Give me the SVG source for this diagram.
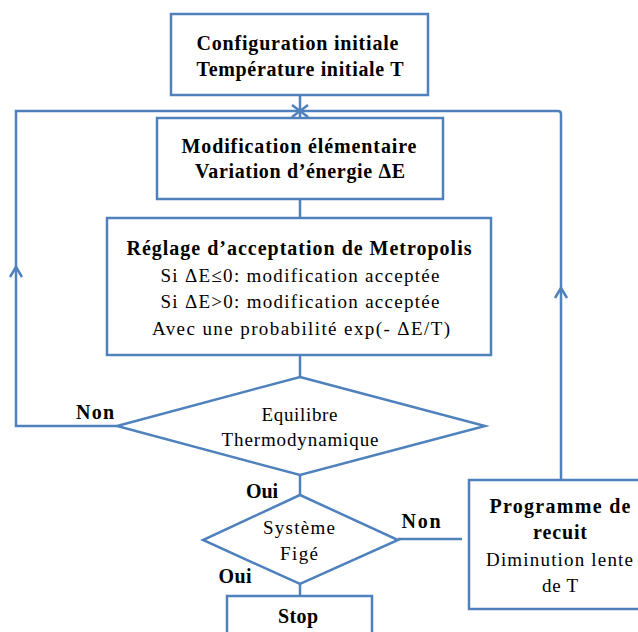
<svg xmlns="http://www.w3.org/2000/svg" width="638" height="632" viewBox="0 0 638 632" font-family="Times New Roman">
<style>
.box{fill:#fff;stroke:#4F81BD;stroke-width:2.5}
.ln{fill:none;stroke:#4F81BD;stroke-width:2.5}
text{font-family:"Times New Roman",serif;fill:#000;text-anchor:middle}
.b{font-weight:bold;font-size:20px}
.r{font-size:19px}
</style>
<rect width="638" height="632" fill="#fff"/>
<g id="connectors">
<line class="ln" x1="300" y1="95" x2="300" y2="118"/>
<path class="ln" d="M117,426 H16 V111 H558 Q561,111 561,114 V480"/>
<path class="ln" d="M292,105 L308,117 M308,105 L292,117"/>
<path class="ln" d="M10,277 L16,267 L22,277"/>
<path class="ln" d="M555,298 L561,288 L567,298"/>
<line class="ln" x1="300" y1="199" x2="300" y2="218"/>
<line class="ln" x1="300" y1="355" x2="300" y2="377"/>
<line class="ln" x1="300" y1="475" x2="300" y2="495"/>
<line class="ln" x1="300" y1="584" x2="300" y2="596"/>
<line class="ln" x1="398" y1="539" x2="462" y2="539"/>
<text class="b" x="95" y="419" textLength="38" lengthAdjust="spacing">Non</text>
<text class="b" x="262" y="498" textLength="32" lengthAdjust="spacing">Oui</text>
<text class="b" x="235" y="583" textLength="33" lengthAdjust="spacing">Oui</text>
<text class="b" x="421" y="528" textLength="39" lengthAdjust="spacing">Non</text>
</g>
<g id="init">
<rect class="box" x="171" y="14" width="257" height="81"/>
<text class="b" x="297.5" y="50" textLength="202" lengthAdjust="spacing">Configuration  initiale</text>
<text class="b" x="300" y="76" textLength="207" lengthAdjust="spacing">Température initiale T</text>
</g>
<g id="modif">
<rect class="box" x="157" y="118" width="286" height="81"/>
<text class="b" x="299" y="153" textLength="235" lengthAdjust="spacing">Modification élémentaire</text>
<text class="b" x="300" y="178" textLength="210" lengthAdjust="spacing">Variation d’énergie ΔE</text>
</g>
<g id="metropolis">
<rect class="box" x="107" y="218" width="384" height="137"/>
<text class="b" x="299" y="255" textLength="345" lengthAdjust="spacing">Réglage d’acceptation de Metropolis</text>
<text class="r" x="300" y="282" textLength="279" lengthAdjust="spacing">Si ΔE≤0: modification  acceptée</text>
<text class="r" x="300" y="308" textLength="279" lengthAdjust="spacing">Si ΔE&gt;0: modification  acceptée</text>
<text class="r" x="301" y="335" textLength="298" lengthAdjust="spacing">Avec une probabilité   exp(- ΔE/T)</text>
</g>
<g id="equilibre">
<polygon class="box" points="300,377 485,426 300,475 117,426"/>
<text class="r" x="299.5" y="421" textLength="76" lengthAdjust="spacing">Equilibre</text>
<text class="r" x="300" y="446" textLength="157" lengthAdjust="spacing">Thermodynamique</text>
</g>
<g id="fige">
<polygon class="box" points="300,495 398,540 300,584 203,540"/>
<text class="r" x="299" y="534" textLength="72" lengthAdjust="spacing">Système</text>
<text class="r" x="299" y="560" textLength="38" lengthAdjust="spacing">Figé</text>
</g>
<g id="stop">
<rect class="box" x="227" y="596" width="145" height="50"/>
<text class="b" x="298" y="623" textLength="40" lengthAdjust="spacing">Stop</text>
</g>
<g id="recuit">
<rect class="box" x="469" y="480" width="180" height="129"/>
<text class="b" x="560" y="513" textLength="141" lengthAdjust="spacing">Programme  de</text>
<text class="b" x="560" y="539" textLength="54" lengthAdjust="spacing">recuit</text>
<text class="r" x="559.5" y="566" textLength="147" lengthAdjust="spacing">Diminution  lente</text>
<text class="r" x="560" y="592" textLength="36" lengthAdjust="spacing">de T</text>
</g>
</svg>
